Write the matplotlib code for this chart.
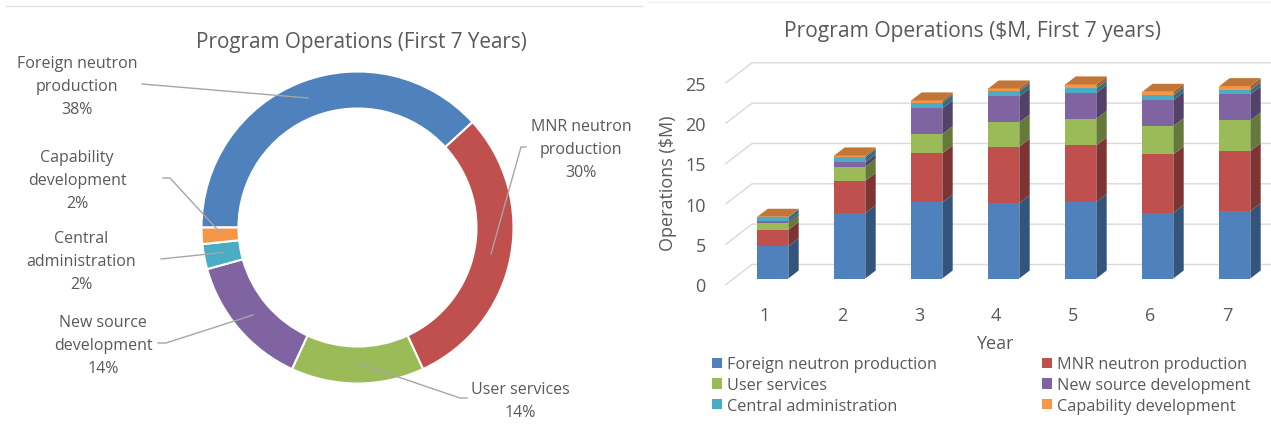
import matplotlib
matplotlib.use("Agg")
import matplotlib.pyplot as plt
from matplotlib.patches import Polygon, Patch
from matplotlib.lines import Line2D
from matplotlib.transforms import Affine2D
import numpy as np

W, H = 1271, 431
plt.rcParams['font.family'] = ['Open Sans', 'DejaVu Sans']
TEXT = '#595959'
GRID = '#D9D9D9'
LEAD = '#A6A6A6'

# ---------- data ----------
series_names = ['Foreign neutron production', 'MNR neutron production', 'User services',
                'New source development', 'Central administration', 'Capability development']
colors = ['#4F81BD', '#C0504D', '#9BBB59', '#8064A2', '#4BACC6', '#F79646']
donut_values = [38.2, 29.9, 13.8, 13.8, 2.6, 1.7]
donut_labels = ['Foreign neutron\nproduction\n38%', 'MNR neutron\nproduction\n30%', 'User services\n14%',
                'New source\ndevelopment\n14%', 'Central\nadministration\n2%', 'Capability\ndevelopment\n2%']
years = [1, 2, 3, 4, 5, 6, 7]
foreign = [4.00, 8.10, 9.42, 9.34, 9.50, 8.14, 8.35]
mnr = [2.03, 4.00, 6.08, 6.98, 6.99, 7.23, 7.44]
user = [0.83, 1.74, 2.39, 3.02, 3.30, 3.51, 3.80]
new_source = [0.21, 0.54, 3.18, 3.22, 3.19, 3.22, 3.22]
central = [0.53, 0.66, 0.71, 0.66, 0.57, 0.59, 0.54]
capability = [0.05, 0.21, 0.29, 0.33, 0.50, 0.45, 0.49]
value_ticks = [0, 5, 10, 15, 20, 25]

fig = plt.figure(figsize=(W / 100, H / 100), dpi=100, facecolor='white')
pix = Affine2D().scale(1 / W, -1 / H).translate(0, 1) + fig.transFigure


def axes_px(l, t, r, b):
    return fig.add_axes([l / W, 1 - b / H, (r - l) / W, (b - t) / H])


def shade(c, f):
    return tuple(x * f for x in matplotlib.colors.to_rgb(c))


# ---------- header rules ----------
fig.add_artist(Line2D([6, 642], [6.5, 6.5], transform=pix, color='#E4E4E4', lw=1))
fig.add_artist(Line2D([648, 1271], [2.5, 2.5], transform=pix, color='#F1F1F1', lw=1))

# ---------- donut ----------
ax0 = axes_px(201.5, 72.5, 513.5, 384.5)
ax0.pie(donut_values, colors=colors, startangle=180, counterclock=False, radius=1,
        wedgeprops=dict(width=37 / 156, edgecolor='white', linewidth=1.5))
ax0.set_xlim(-1, 1)
ax0.set_ylim(-1, 1)
ax0.set_title('Program Operations (First 7 Years)', x=(361.5 - 201.5) / 312, y=(384.5 - 43) / 312,
              va='center', ha='center', fontsize=14.9, color=TEXT, pad=0)

label_pos = [(77, 87), (581, 150), (520, 401.5), (103, 346), (81, 262), (77, 181)]
leaders = [
    [(142, 85), (308, 99)],
    [(526, 148), (521, 148), (491, 255)],
    [(357, 364), (460, 399), (467, 399)],
    [(158, 344), (166, 344), (253, 316)],
    [(161, 260), (223, 253.5)],
    [(163, 179), (170, 179), (221.5, 235)],
]
for txt, (x, y), pts in zip(donut_labels, label_pos, leaders):
    fig.text(x, y, txt, transform=pix, ha='center', va='center', fontsize=11.5, color=TEXT, linespacing=1.55)
    xs, ys = zip(*pts)
    fig.add_artist(Line2D(xs, ys, transform=pix, color=LEAD, lw=1))

# ---------- 3-D style stacked bars ----------
PX_X, PX_Y = 77.0, 8.07          # pixels per category / per $M
DX, DY = 26 / PX_X, 20 / PX_Y    # full floor depth in data units
ax = axes_px(726, 50, 1271, 285.5)
ax.set_xlim((726 - 765) / PX_X + 1, (1271 - 765) / PX_X + 1)
ax.set_ylim(0, 235.5 / PX_Y)
for s in ax.spines.values():
    s.set_visible(False)


def P(x, v, d):
    return (x + d * DX, v + d * DY)


for t in value_ticks:
    a, b = P(ax.get_xlim()[0], t, 0), P(ax.get_xlim()[0], t, 1)
    ax.plot([a[0], b[0], ax.get_xlim()[1]], [a[1], b[1], b[1]], color=GRID, lw=1, clip_on=False, zorder=1)

half = 31 / PX_X / 2
F, B = 0.3, 0.7
stack = [foreign, mnr, user, new_source, central, capability]
for i, yr in enumerate(years):
    base = 0.0
    for vals, col in zip(stack, colors):
        top = base + vals[i]
        x0, x1 = yr - half, yr + half
        ax.add_patch(Polygon([P(x1, base, F), P(x1, base, B), P(x1, top, B), P(x1, top, F)],
                             closed=True, fc=shade(col, 0.65), ec='none', zorder=3))
        ax.add_patch(Polygon([P(x0, base, F), P(x1, base, F), P(x1, top, F), P(x0, top, F)],
                             closed=True, fc=col, ec='none', zorder=4))
        base = top
    ax.add_patch(Polygon([P(x0, base, F), P(x1, base, F), P(x1, base, B), P(x0, base, B)],
                         closed=True, fc=shade(colors[-1], 0.78), ec='none', zorder=4))

ax.set_xticks(years)
ax.set_yticks(value_ticks)
ax.patch.set_visible(False)
ax.tick_params(axis='both', length=0, colors=TEXT, labelsize=13)
ax.tick_params(axis='x', pad=15.5)
ax.tick_params(axis='y', pad=14.5)
ax.set_xlabel('Year', fontsize=13, color=TEXT)
ax.xaxis.set_label_coords((995 - 726) / 545, (285 - 344) / 235.5)
ax.xaxis.label.set_va('center')
ax.set_ylabel('Operations ($M)', fontsize=13, color=TEXT)
ax.yaxis.set_label_coords((668 - 726) / 545, (285 - 183) / 235.5)
ax.yaxis.label.set_va('center')
ax.set_title('Program Operations ($M, First 7 years)', x=(973 - 726) / 545, y=(285 - 31) / 235.5,
             va='center', ha='center', fontsize=15.1, color=TEXT, pad=0)

order = [0, 2, 4, 1, 3, 5]
handles = [Patch(fc=colors[k], ec='none', label=series_names[k]) for k in order]
fs = 11.7
em = fs * 100 / 72
fig.legend(handles=handles, ncols=2, frameon=False, loc='upper left',
           bbox_to_anchor=(711.7 / W, 1 - 357.5 / H), fontsize=fs, labelcolor=TEXT,
           borderpad=0, borderaxespad=0, handlelength=10 / em, handleheight=10 / em,
           handletextpad=5 / em, labelspacing=0.29, columnspacing=105.6 / em)

fig.savefig('out.png', dpi=100)
